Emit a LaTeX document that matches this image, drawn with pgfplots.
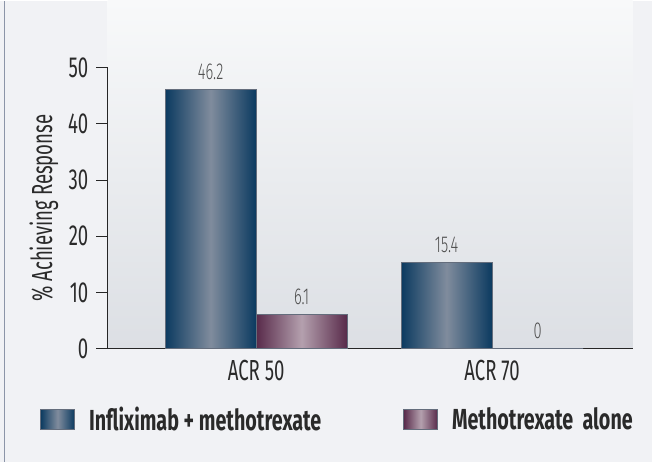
\documentclass[border=0pt]{standalone}
\usepackage{fontspec}
\setmainfont{Fira Sans}[FakeStretch=0.64]
\newfontfamily\legendfont{Fira Sans}[FakeStretch=0.68]
\newfontfamily\valuefont{Fira Sans Light}[FakeStretch=0.64]
\usepackage{pgfplots}
\pgfplotsset{compat=1.18}

\definecolor{navyedge}{HTML}{0B3A60}
\definecolor{navymid}{HTML}{808C9D}
\definecolor{plumedge}{HTML}{582A4A}
\definecolor{plummid}{HTML}{B4A0AE}
\definecolor{barline}{HTML}{646D7C}
\definecolor{outerbg}{HTML}{F1F2F5}
\definecolor{plottop}{HTML}{F8F9FA}
\definecolor{plotbot}{HTML}{DCDFE4}
\definecolor{frameline}{HTML}{8C95A8}
\definecolor{labelgray}{HTML}{4E4E4E}
\definecolor{textdark}{HTML}{2A2A2A}

\tikzset{
  navybar/.style={draw=barline, line width=0.8pt,
    left color=navyedge, right color=navyedge, middle color=navymid},
  plumbar/.style={draw=barline, line width=0.8pt,
    left color=plumedge, right color=plumedge, middle color=plummid},
}

\begin{document}
\begin{tikzpicture}[x=1pt,y=1pt]
  % panel background and left rule
  \fill[outerbg] (0,0) rectangle (652,461);
  \draw[frameline, line width=1.3pt] (4.5,0) -- (4.5,461);
  % plotting area background
  \shade[bottom color=plotbot, top color=plottop] (107.5,113) rectangle (632.7,461);

  \begin{axis}[
    at={(107.5pt,113pt)}, anchor=south west,
    scale only axis, width=525.2pt, height=281pt,
    xmin=-0.63, xmax=1.596, ymin=0, ymax=50,
    clip=false,
    axis x line*=bottom, axis y line*=left,
    axis line style={line width=1pt, color=black!85},
    ytick={0,10,20,30,40,50},
    xtick={0,1}, xticklabels={ACR 50, ACR 70},
    tick align=outside, major tick length=11pt,
    y tick style={line width=1pt, color=black!85},
    x tick style={draw=none},
    /pgf/number format/assume math mode=true,
    ticklabel style={font=\fontsize{29}{32}\selectfont, text=textdark, inner sep=0pt},
    xticklabel style={yshift=0pt},
    yticklabel style={xshift=-8pt},
    ylabel={\% Achieving Response},
    ylabel style={at={(axis description cs:-0.121,0.5)}, anchor=center,
      font=\fontsize{29}{32}\selectfont, text=textdark},
    nodes near coords,
    nodes near coords style={font=\valuefont\fontsize{23}{26}\selectfont,
      text=labelgray, yshift=6pt},
    legend columns=2,
    legend style={draw=none, fill=none, inner sep=0pt,
      at={(axis description cs:-0.1285,-0.2527)}, anchor=west,
      font=\legendfont\fontsize{29}{32}\selectfont\bfseries, text=textdark,
      /tikz/every odd column/.append style={column sep=12pt},
      /tikz/every even column/.append style={column sep=80pt}},
  ]
    % one plot per bar so that every bar carries its own cylinder shading;
    % each group is centred on its category (0 and 1), bars 91pt wide
    \addplot[ybar, bar width=91pt, bar shift=0pt, navybar,
      legend image code/.code={\draw[navybar] (0pt,-10pt) rectangle (34pt,10pt);}]
      coordinates {(-0.1929,46.2)};
    \addplot[ybar, bar width=91pt, bar shift=0pt, plumbar,
      legend image code/.code={\draw[plumbar] (0pt,-10pt) rectangle (34pt,10pt);}]
      coordinates {(0.1929,6.1)};
    \addplot[ybar, bar width=91pt, bar shift=0pt, navybar, forget plot]
      coordinates {(0.8071,15.4)};
    \addplot[ybar, bar width=91pt, bar shift=0pt, plumbar, forget plot]
      coordinates {(1.1929,0)};
    \legend{Infliximab + methotrexate, Methotrexate\ \ alone}
  \end{axis}
\end{tikzpicture}
\end{document}
